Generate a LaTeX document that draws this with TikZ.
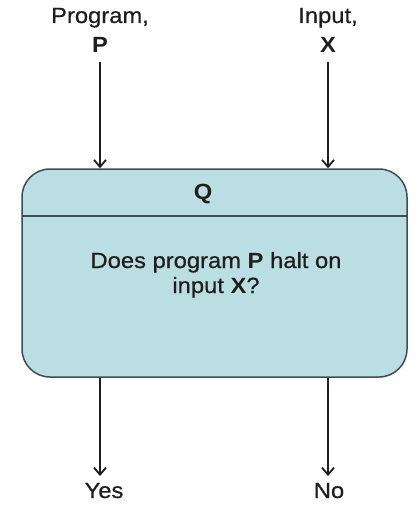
\documentclass[tikz,border=0pt]{standalone}
\usepackage{fontspec}
\setmainfont[FakeStretch=1.08,UprightFeatures={FakeBold=0.6}]{Liberation Sans}
\usetikzlibrary{arrows.meta}
\definecolor{boxfill}{RGB}{187,222,226}
\definecolor{boxline}{RGB}{58,78,84}
\definecolor{inkc}{RGB}{30,30,30}
\begin{document}
\begin{tikzpicture}[x=1pt,y=-1pt,
  lbl/.style={anchor=base,inner sep=0pt,text=inkc,font=\fontsize{22}{26}\selectfont},
  arr/.style={draw=inkc,line width=1.8pt,-{Straight Barb[length=7pt,width=12pt,line width=1.8pt]}},
  qbox/.style={draw=boxline,fill=boxfill,line width=1.5pt,rounded corners=28pt,
     minimum width=385pt,minimum height=208pt,inner sep=0pt}]
\useasboundingbox (0,0) rectangle (419,506);
% box
\node[qbox] (Q) at (214.5,273) {};
\coordinate (divL) at (22,216);
\coordinate (divR) at (407,216);
\draw[boxline,line width=1.5pt] (divL) -- (divR);
\node[lbl,font=\fontsize{22}{26}\selectfont\bfseries] (qt) at (203,199) {Q};
\node[lbl] (q1) at (216,268) {Does program \textbf{P} halt on};
\node[lbl] (q2) at (216,293) {input \textbf{X}?};
% inputs
\node[lbl] (prog) at (100,23) {Program,};
\node[lbl,font=\fontsize{22}{26}\selectfont\bfseries] (P) at (100,52) {P};
\node[lbl] (inp) at (328,23) {Input,};
\node[lbl,font=\fontsize{22}{26}\selectfont\bfseries] (X) at (328,52) {X};
\coordinate (ps) at (100,62);
\coordinate (xs) at (328,62);
\draw[arr] (ps) -- (ps |- Q.north);
\draw[arr] (xs) -- (xs |- Q.north);
% outputs
\node[lbl] (yes) at (104,498) {Yes};
\node[lbl] (no) at (329,498) {No};
\coordinate (ye) at (100,476);
\coordinate (ne) at (328,476);
\draw[arr] (ye |- Q.south) -- (ye);
\draw[arr] (ne |- Q.south) -- (ne);
\end{tikzpicture}
\end{document}
